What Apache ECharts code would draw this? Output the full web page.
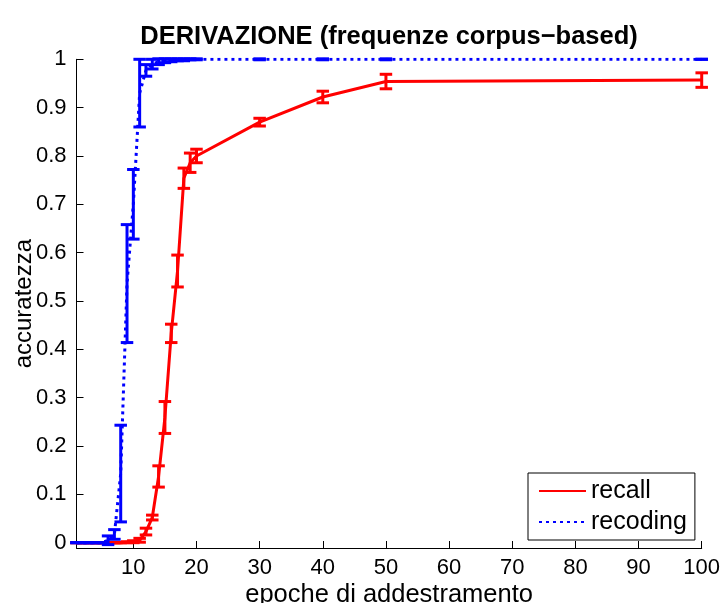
<!DOCTYPE html>
<html>
<head>
<meta charset="utf-8">
<script src="https://cdn.jsdelivr.net/npm/echarts@6/dist/echarts.min.js"></script>
<style>html,body{margin:0;padding:0;background:#fff}#c{width:722px;height:603px}</style>
</head>
<body>
<div id="c"></div>
<script>
const epochs = [1,2,3,4,5,6,7,8,9,10,11,12,13,14,15,16,17,18,19,20,30,40,50,100];
const recallMean = [0,0,0,0,0,0,0,0,0.001,0.002,0.005,0.023,0.052,0.137,0.259,0.433,0.562,0.754,0.786,0.800,0.870,0.922,0.954,0.957];
const recallErr  = [0,0,0,0,0,0,0,0,0.001,0.002,0.004,0.007,0.005,0.022,0.033,0.019,0.033,0.021,0.020,0.014,0.008,0.012,0.015,0.015];
const recodingMean = [0,0,0,0,0,0.005,0.017,0.143,0.536,0.700,0.930,0.977,0.990,0.995,0.997,0.998,0.999,0.999,1.0,1.0,1.0,1.0,1.0,1.0];
const recodingErr  = [0,0,0,0,0,0.009,0.010,0.100,0.122,0.072,0.070,0.012,0.010,0.006,0.004,0.003,0.002,0.002,0.001,0.001,0.001,0.001,0.001,0];
const xTicks = [10,20,30,40,50,60,70,80,90,100];
const yTicks = [0,0.1,0.2,0.3,0.4,0.5,0.6,0.7,0.8,0.9,1];
const seriesNames = ['recall','recoding'];
const titleText = 'DERIVAZIONE (frequenze corpus\u2212based)';
const xName = 'epoche di addestramento';
const yName = 'accuratezza';

const FONT = '"Liberation Sans", Arial, Helvetica, sans-serif';
const RED = '#ff0000', BLUE = '#0000ff';
const TEE = (epochs[epochs.length-1] - epochs[0]) / 100;

function pairs(m){ return epochs.map((x,i)=>[x, m[i]]); }
function bars(m,e){ return epochs.map((x,i)=>[x, m[i]-e[i], m[i]+e[i]]); }

function errRender(color){
  return function(params, api){
    const x = api.value(0), lo = api.value(1), hi = api.value(2);
    const pl = api.coord([x, lo]), ph = api.coord([x, hi]);
    const l1 = api.coord([x - TEE, lo]), r1 = api.coord([x + TEE, lo]);
    const l2 = api.coord([x - TEE, hi]), r2 = api.coord([x + TEE, hi]);
    const st = {stroke: color, lineWidth: 3, fill: null};
    return {type:'group', children:[
      {type:'line', shape:{x1:pl[0],y1:pl[1],x2:ph[0],y2:ph[1]}, style:st},
      {type:'line', shape:{x1:l1[0],y1:l1[1],x2:r1[0],y2:r1[1]}, style:st},
      {type:'line', shape:{x1:l2[0],y1:l2[1],x2:r2[0],y2:r2[1]}, style:st}
    ]};
  };
}

const chart = echarts.init(document.getElementById('c'), null, {renderer:'canvas'});
chart.setOption({
  animation: false,
  backgroundColor: '#fff',
  title: {
    text: titleText, left: 384, top: 19, textAlign: 'center',
    textStyle: {fontFamily: FONT, fontWeight: 'bold', fontSize: 25.5, color: '#000'}
  },
  grid: {left: 76.5, right: 20.3, top: 59.3, bottom: 55, containLabel: false, outerBoundsMode: 'none'},
  xAxis: {
    type: 'value', min: 1, max: 100,
    name: xName, nameLocation: 'middle', nameGap: 34, nameMoveOverlap: false,
    nameTextStyle: {fontFamily: FONT, fontSize: 25.5, color: '#000'},
    axisLine: {show: true, onZero: false, lineStyle: {color: '#000', width: 1}},
    axisTick: {show: true, inside: true, length: 7, customValues: xTicks, lineStyle: {color: '#000'}},
    axisLabel: {show: true, customValues: xTicks, margin: 9, fontFamily: FONT, fontSize: 22, color: '#000'},
    splitLine: {show: false}
  },
  yAxis: {
    type: 'value', min: -0.011, max: 1,
    name: yName, nameLocation: 'middle', nameGap: 40, nameMoveOverlap: false,
    nameTextStyle: {fontFamily: FONT, fontSize: 24, color: '#000'},
    axisLine: {show: true, onZero: false, lineStyle: {color: '#000', width: 1}},
    axisTick: {show: true, inside: true, length: 7, customValues: yTicks, lineStyle: {color: '#000'}},
    axisLabel: {show: true, customValues: yTicks, margin: 10, fontFamily: FONT, fontSize: 22, color: '#000',
      formatter: v => String(Math.round(v*10)/10)},
    splitLine: {show: false}
  },
  legend: {
    data: seriesNames,
    orient: 'vertical', left: 528, top: 473,
    padding: [4, 8, 4, 10], itemGap: 3, itemWidth: 47, itemHeight: 14,
    backgroundColor: '#fff', borderColor: '#000', borderWidth: 1, borderRadius: 0,
    itemStyle: {color: 'rgba(0,0,0,0)', borderWidth: 0, opacity: 0},
    textStyle: {fontFamily: FONT, fontSize: 25, color: '#000', lineHeight: 28}
  },
  series: [
    {name: seriesNames[0], type: 'line', data: pairs(recallMean), symbol: 'none', z: 2,
      lineStyle: {color: RED, width: 3, type: 'solid'}, itemStyle: {color: RED}},
    {name: 'recallErr', type: 'custom', data: bars(recallMean, recallErr), renderItem: errRender(RED), z: 2,
      encode: {x: 0, y: [1, 2]}},
    {name: seriesNames[1], type: 'line', data: pairs(recodingMean), symbol: 'none', z: 3,
      lineStyle: {color: BLUE, width: 3, type: [3, 4]}, itemStyle: {color: BLUE}},
    {name: 'recodingErr', type: 'custom', data: bars(recodingMean, recodingErr), renderItem: errRender(BLUE), z: 3,
      encode: {x: 0, y: [1, 2]}}
  ]
});
</script>
</body>
</html>
